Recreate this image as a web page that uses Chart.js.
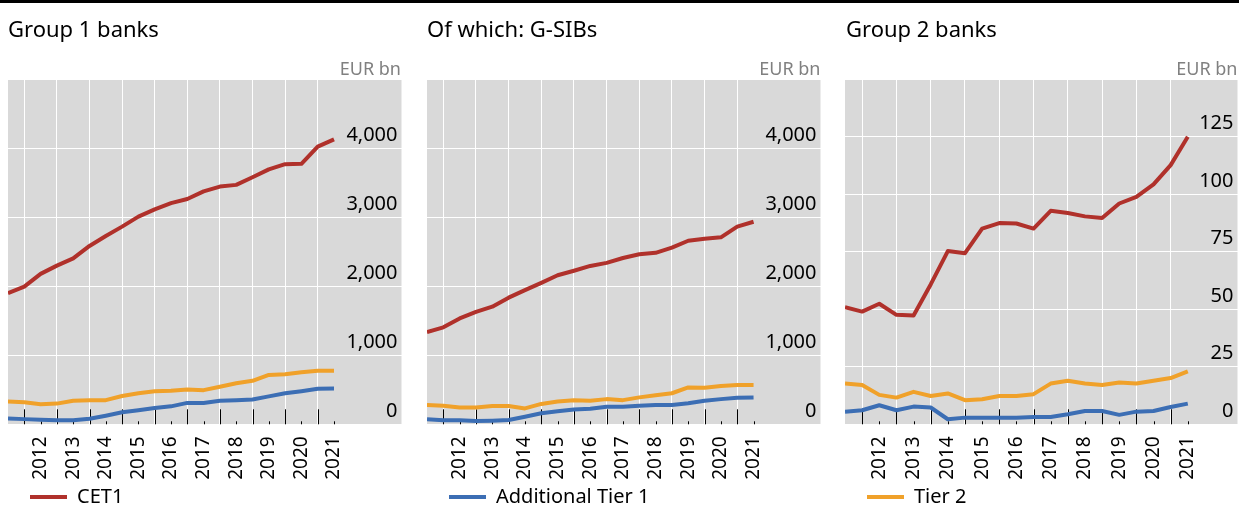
<!DOCTYPE html>
<html>
<head>
<meta charset="utf-8">
<title>Capital by tier</title>
<script src="https://cdn.jsdelivr.net/npm/chart.js@4.4.0/dist/chart.umd.min.js"></script>
<style>
  html, body { margin: 0; padding: 0; background: #fff; overflow: hidden; }
  body { width: 1239px; height: 506px; position: relative; font-family: "Noto Sans", sans-serif; }
  .rule { position: absolute; left: 0; top: 0; width: 1239px; height: 3px; background: #000; }
  .panel { position: absolute; top: 0; height: 517px; }
  .title { position: absolute; top: 17px; font-size: 22px; line-height: 22px; color: #000; white-space: nowrap; }
  .unit { position: absolute; top: 59px; font-size: 18px; line-height: 18px; color: #808080; white-space: nowrap; }
</style>
</head>
<body>
<div class="rule"></div>
<div class="panel" style="left:0;width:420px"><canvas id="group1"></canvas></div>
<div class="panel" style="left:420px;width:420px"><canvas id="gsib"></canvas></div>
<div class="panel" style="left:840px;width:399px"><canvas id="group2"></canvas></div>
<div class="title" style="left:8px">Group 1 banks</div>
<div class="title" style="left:427px">Of which: G-SIBs</div>
<div class="title" style="left:846px">Group 2 banks</div>
<div class="unit" style="right:838px">EUR bn</div>
<div class="unit" style="right:418.5px">EUR bn</div>
<div class="unit" style="right:1.5px">EUR bn</div>

<script>
// Half-yearly reporting dates
const periods = ['Dec 2011', 'Jun 2012', 'Dec 2012', 'Jun 2013', 'Dec 2013', 'Jun 2014', 'Dec 2014',
  'Jun 2015', 'Dec 2015', 'Jun 2016', 'Dec 2016', 'Jun 2017', 'Dec 2017', 'Jun 2018', 'Dec 2018',
  'Jun 2019', 'Dec 2019', 'Jun 2020', 'Dec 2020', 'Jun 2021', 'Dec 2021'];
const years = ['2012', '2013', '2014', '2015', '2016', '2017', '2018', '2019', '2020', '2021'];

// Group 1 banks, EUR bn
const g1Cet1 = [1900, 1995, 2180, 2300, 2405, 2585, 2730, 2865, 3010, 3115, 3205, 3265, 3375, 3445, 3470, 3580, 3695, 3770, 3775, 4025, 4130];
const g1At1 = [85, 75, 65, 60, 60, 80, 125, 175, 205, 235, 260, 310, 310, 340, 350, 360, 405, 450, 480, 515, 520];
const g1Tier2 = [330, 320, 290, 300, 340, 350, 350, 410, 450, 480, 485, 505, 495, 545, 595, 630, 715, 725, 755, 775, 775];

// of which G-SIBs
const gsibCet1 = [1335, 1405, 1535, 1630, 1705, 1835, 1945, 2050, 2160, 2225, 2295, 2340, 2410, 2465, 2485, 2560, 2660, 2690, 2710, 2865, 2935];
const gsibAt1 = [75, 60, 58, 48, 53, 62, 110, 160, 190, 215, 225, 255, 255, 270, 280, 280, 305, 340, 365, 385, 390];
const gsibTier2 = [280, 270, 245, 245, 265, 265, 230, 295, 330, 350, 340, 365, 350, 390, 420, 450, 535, 530, 555, 570, 570];

// Group 2 banks
const g2Cet1 = [50.9, 49.0, 52.4, 47.6, 47.3, 60.8, 75.3, 74.4, 85.1, 87.5, 87.3, 85.1, 92.8, 91.9, 90.4, 89.7, 96.0, 98.9, 104.3, 112.7, 125.0];
const g2At1 = [5.5, 6.1, 8.3, 6.1, 7.7, 7.3, 2.2, 2.9, 2.9, 2.9, 2.9, 3.2, 3.2, 4.4, 5.8, 5.8, 4.1, 5.5, 5.8, 7.5, 9.0];
const g2Tier2 = [17.7, 17.1, 12.8, 11.6, 14.1, 12.3, 13.4, 10.5, 10.9, 12.3, 12.3, 13.1, 17.7, 18.9, 17.7, 17.1, 18.2, 17.7, 18.9, 20.1, 23.0];

const tierNames = ['CET1', 'Additional Tier 1', 'Tier 2'];
const tierColors = ['#b0312b', '#3c6eb4', '#f0a12a'];

Chart.defaults.font.family = '"Noto Sans", sans-serif';

// Grey plot area
const plotBackground = {
  id: 'plotBackground',
  beforeDraw(chart) {
    const { ctx, chartArea: a } = chart;
    ctx.save();
    ctx.fillStyle = '#d9d9d9';
    ctx.fillRect(a.left, a.top, a.right - a.left, a.bottom - a.top);
    ctx.restore();
  }
};

// Tick marks pointing up into the plot: long ones on the gridlines, short ones at the year labels
const innerTicks = {
  id: 'innerTicks',
  beforeDatasetsDraw(chart) {
    const { ctx, chartArea, scales } = chart;
    ctx.save();
    ctx.strokeStyle = '#000';
    ctx.lineWidth = 1;
    periods.forEach((p, i) => {
      if (i === 0) return;
      const px = Math.round(scales.x.getPixelForValue(i)) + 0.5;
      const len = i % 2 === 1 ? 15 : 3;
      ctx.beginPath();
      ctx.moveTo(px, chartArea.bottom);
      ctx.lineTo(px, chartArea.bottom - len);
      ctx.stroke();
    });
    ctx.restore();
  }
};

// Legend key: short line with a blank lead-in, so the key sits in from the plot edge
function legendKey(color) {
  const c = document.createElement('canvas');
  c.width = 55;
  c.height = 4;
  const g = c.getContext('2d');
  g.fillStyle = color;
  g.fillRect(18, 0, 37, 4);
  return c;
}

function buildChart(id, values, cfg) {
  new Chart(document.getElementById(id), {
    type: 'line',
    data: {
      datasets: values.map((vals, k) => ({
        label: tierNames[k],
        data: vals.map((v, i) => ({ x: i, y: v })),
        borderColor: tierColors[k],
        backgroundColor: tierColors[k],
        borderWidth: 4,
        borderJoinStyle: 'round',
        pointRadius: 0,
        pointHoverRadius: 0,
        tension: 0
      }))
    },
    options: {
      responsive: true,
      maintainAspectRatio: false,
      animation: false,
      events: [],
      layout: { padding: { left: cfg.left, right: cfg.right, top: 79.3, bottom: 0 } },
      plugins: {
        legend: {
          position: 'bottom',
          align: 'start',
          labels: {
            filter: item => item.datasetIndex === cfg.legendIndex,
            usePointStyle: true,
            pointStyle: legendKey(tierColors[cfg.legendIndex]),
            pointStyleWidth: 55,
            padding: 4,
            color: '#000',
            font: { size: 20 }
          }
        },
        tooltip: { enabled: false }
      },
      scales: {
        x: {
          type: 'linear',
          min: 0,
          max: cfg.xMax,
          afterBuildTicks: s => { s.ticks = periods.map((p, i) => ({ value: i })); },
          afterFit: s => { s.height = 58.7; s.paddingLeft = 0; s.paddingRight = 0; },
          border: { display: false },
          grid: {
            color: c => (c.tick && c.tick.value % 2 === 1) ? '#ffffff' : 'rgba(0,0,0,0)',
            lineWidth: 1,
            drawTicks: false
          },
          ticks: {
            autoSkip: false,
            minRotation: 90,
            maxRotation: 90,
            padding: 12,
            color: '#000',
            font: { size: 19 },
            callback: v => (v % 2 === 0 && v >= 2) ? years[v / 2 - 1] : ''
          }
        },
        y: {
          position: 'right',
          min: 0,
          max: cfg.yMax,
          afterFit: s => { s.width = 0; s.paddingTop = 0; s.paddingBottom = 0; },
          border: { display: false },
          grid: { color: '#ffffff', lineWidth: 1, drawTicks: false },
          ticks: {
            stepSize: cfg.yStep,
            autoSkip: false,
            mirror: true,
            padding: -4,
            labelOffset: -13.5,
            color: '#000',
            font: { size: 20 },
            callback: v => v >= cfg.yMax ? '' : v.toLocaleString('en-US')
          }
        }
      }
    },
    plugins: [plotBackground, innerTicks]
  });
}

buildChart('group1', [g1Cet1, g1At1, g1Tier2], { left: 8, right: 18.5, xMax: 24.14, yMax: 5000, yStep: 1000, legendIndex: 0 });
buildChart('gsib', [gsibCet1, gsibAt1, gsibTier2], { left: 7, right: 19.5, xMax: 24.1, yMax: 5000, yStep: 1000, legendIndex: 1 });
buildChart('group2', [g2Cet1, g2At1, g2Tier2], { left: 5, right: 1.5, xMax: 22.9, yMax: 150, yStep: 25, legendIndex: 2 });
</script>
</body>
</html>
